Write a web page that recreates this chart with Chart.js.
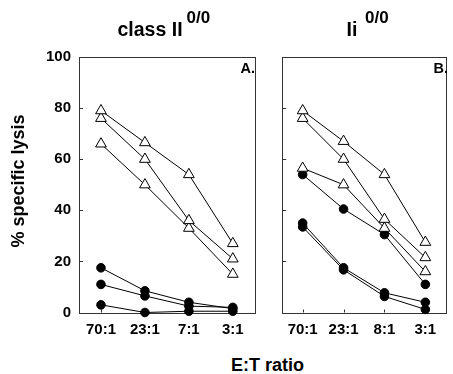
<!DOCTYPE html>
<html>
<head>
<meta charset="utf-8">
<script src="https://cdn.jsdelivr.net/npm/chart.js@4/dist/chart.umd.min.js"></script>
<style>
  html, body { margin: 0; padding: 0; background: #fff; }
  #wrap { position: relative; width: 453px; height: 374px; overflow: hidden; font-family: "Liberation Sans", Arial, sans-serif; font-weight: bold; color: #000; }
  .t { position: absolute; white-space: nowrap; line-height: 1; }
  canvas { position: absolute; }
</style>
</head>
<body>
<div id="wrap">
  <canvas id="cA" style="left:0px;top:0px;width:262px;height:340px"></canvas>
  <canvas id="cB" style="left:275px;top:0px;width:178px;height:340px"></canvas>
  <div class="t" style="left:117.5px;top:20px;font-size:19.5px">class II</div>
  <div class="t" style="left:186.5px;top:8.9px;font-size:17px">0/0</div>
  <div class="t" style="left:346.5px;top:20px;font-size:19.5px">Ii</div>
  <div class="t" style="left:365px;top:8.9px;font-size:17px">0/0</div>
  <div class="t" style="right:198px;top:61px;font-size:14.5px">A.</div>
  <div class="t" style="right:5px;top:61px;font-size:14.5px">B.</div>
  <div class="t" style="left:167.5px;width:200px;text-align:center;top:355.8px;font-size:18px">E:T ratio</div>
  <div class="t" style="left:-81.6px;top:171.5px;width:200px;height:18px;text-align:center;font-size:18px;transform:rotate(-90deg)">% specific lysis</div>
</div>
<script>
// ---- Data ----
const categoriesA = ['70:1', '23:1', '7:1', '3:1'];
const categoriesB = ['70:1', '23:1', '8:1', '3:1'];
const yTicks = [0, 20, 40, 60, 80, 100];

// Panel A: class II 0/0
const aTri1 = [79, 66.5, 54, 27];
const aTri2 = [76, 60, 36, 21];
const aTri3 = [66, 50, 33, 15];
const aDot1 = [17.5, 8.5, 4, 1.5];
const aDot2 = [11, 6.5, 2.5, 2];
const aDot3 = [3, 0, 0.5, 0.5];

// Panel B: Ii 0/0
const bTri1 = [79, 67, 54, 27.5];
const bTri2 = [76, 60, 36.5, 21.5];
const bTri3 = [56.5, 50, 33, 16];
const bDot1 = [54, 40.5, 30.5, 11];
const bDot2 = [35, 17.5, 7.7, 4];
const bDot3 = [33.5, 16.7, 6.3, 1.2];

// ---- Styling helpers ----
function triSet(data) {
  return { data, borderColor: '#000', borderWidth: 1, pointStyle: 'triangle', pointRadius: 6.2,
    pointBackgroundColor: '#fff', pointBorderColor: '#000', pointBorderWidth: 1, fill: false, tension: 0, clip: false };
}
function dotSet(data) {
  return { data, borderColor: '#000', borderWidth: 1, pointStyle: 'circle', pointRadius: 4.3,
    pointBackgroundColor: '#000', pointBorderColor: '#000', pointBorderWidth: 1, fill: false, tension: 0, clip: false };
}

const framePlugin = {
  id: 'frame',
  beforeDatasetsDraw(chart) {
    const { ctx, chartArea: a, scales } = chart;
    ctx.save();
    ctx.strokeStyle = '#333';
    ctx.lineWidth = 1;
    ctx.strokeRect(Math.round(a.left) + 0.5, Math.round(a.top) + 0.5, Math.round(a.right - a.left), Math.round(a.bottom - a.top));
    ctx.beginPath();
    yTicks.forEach(v => {
      const y = Math.round(scales.y.getPixelForValue(v)) + 0.5;
      ctx.moveTo(a.left, y); ctx.lineTo(a.left + 4, y);
    });
    scales.x.ticks.forEach((t, i) => {
      const x = Math.round(scales.x.getPixelForTick(i)) + 0.5;
      ctx.moveTo(x, a.bottom); ctx.lineTo(x, a.bottom - 3);
    });
    ctx.stroke();
    ctx.restore();
  }
};

const tickFont = { family: "'Liberation Sans', Arial, sans-serif", size: 15, weight: 'bold' };

function makeChart(id, cats, sets, showY, padLeft, padRight) {
  return new Chart(document.getElementById(id), {
    type: 'line',
    data: { labels: cats, datasets: sets },
    options: {
      responsive: false,
      animation: false,
      devicePixelRatio: 1,
      layout: { padding: { top: 57, left: padLeft, right: padRight, bottom: 0 } },
      plugins: { legend: { display: false }, tooltip: { enabled: false } },
      scales: {
        x: {
          type: 'category', offset: true,
          grid: { display: false, drawTicks: false },
          border: { display: false },
          ticks: { color: '#000', font: tickFont, padding: 8, maxRotation: 0, autoSkip: false },
          afterFit(s) { s.height = 27.5; }
        },
        y: {
          display: showY ? true : false,
          min: 0, max: 100,
          afterBuildTicks(s) { s.ticks = yTicks.map(v => ({ value: v })); },
          grid: { display: false, drawTicks: false },
          border: { display: false },
          ticks: { color: '#000', font: tickFont, padding: 8 },
          afterFit(s) { s.width = showY ? 79 : 0; }
        }
      }
    },
    plugins: [framePlugin]
  });
}

function sizeCanvas(id, w, h) {
  const c = document.getElementById(id);
  c.width = w; c.height = h;
}
sizeCanvas('cA', 262, 340);
sizeCanvas('cB', 178, 340);

makeChart('cA', categoriesA,
  [triSet(aTri1), triSet(aTri2), triSet(aTri3), dotSet(aDot1), dotSet(aDot2), dotSet(aDot3)],
  true, 0, 4);
makeChart('cB', categoriesB,
  [triSet(bTri1), triSet(bTri2), triSet(bTri3), dotSet(bDot1), dotSet(bDot2), dotSet(bDot3)],
  false, 7, 1);
</script>
</body>
</html>
